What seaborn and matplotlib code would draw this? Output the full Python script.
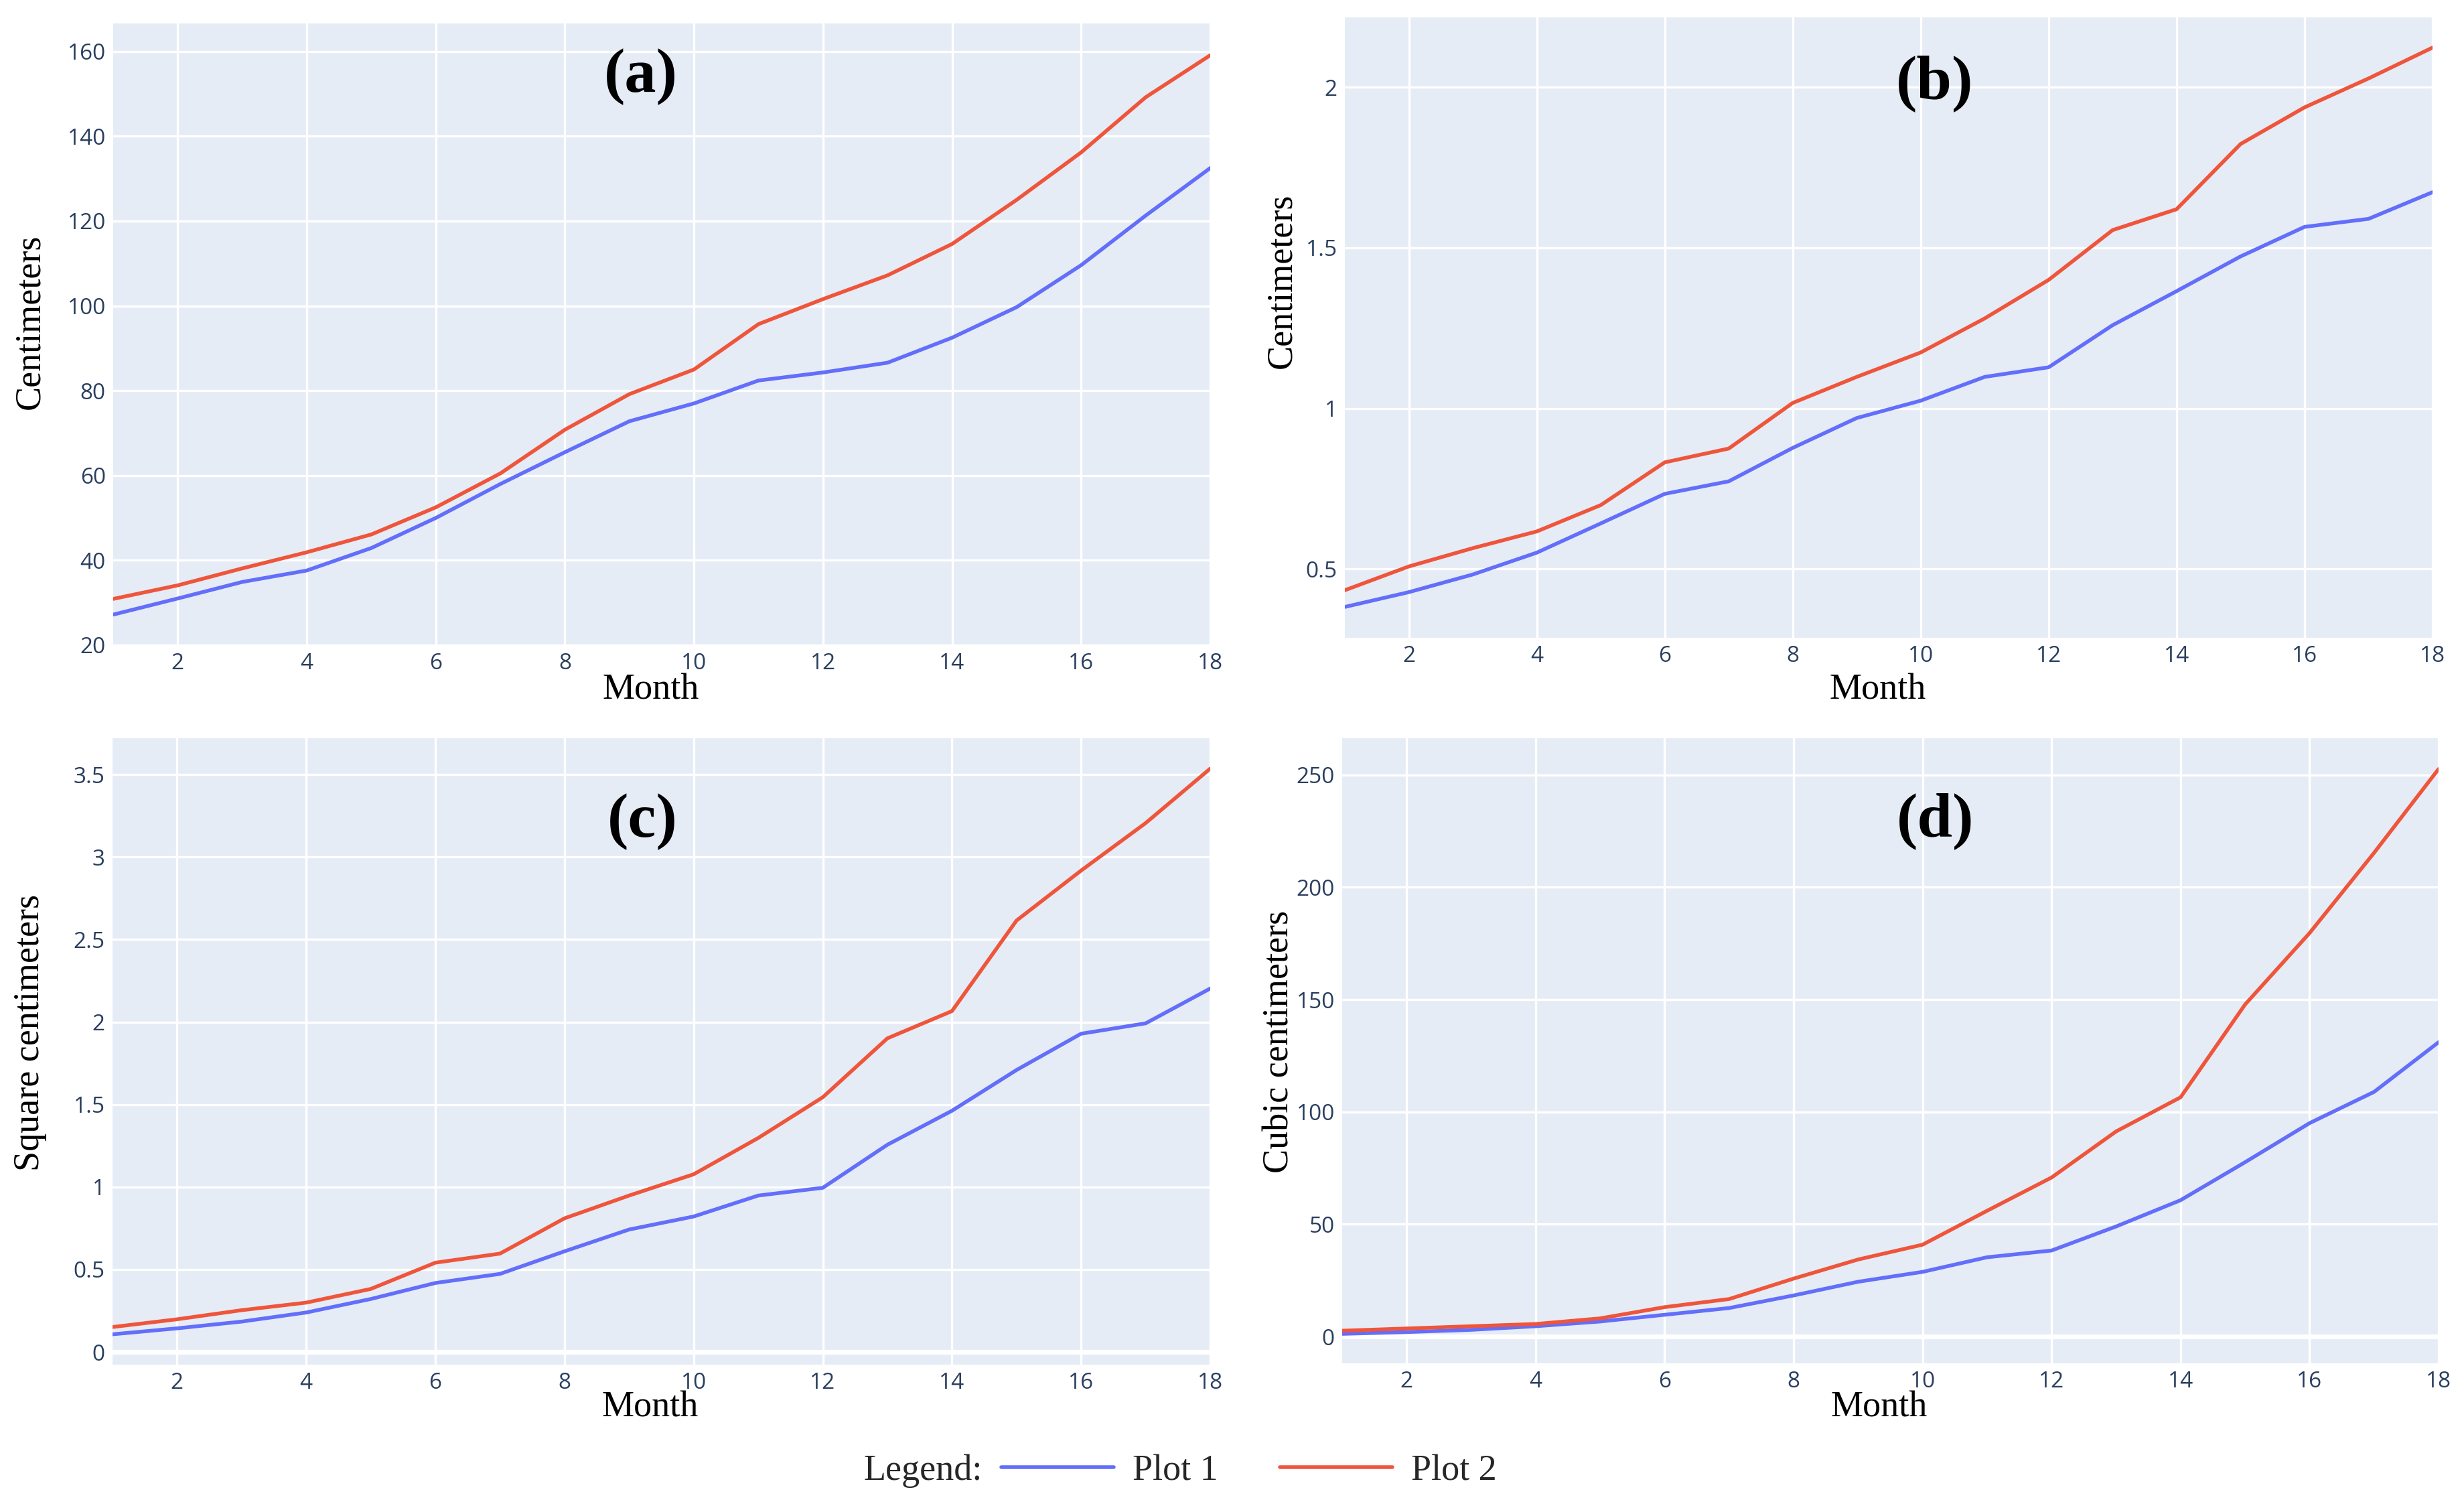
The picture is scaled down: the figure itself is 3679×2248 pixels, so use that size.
import pandas as pd
import numpy as np
import matplotlib
matplotlib.use("Agg")
import matplotlib.pyplot as plt
from matplotlib.ticker import FuncFormatter
from matplotlib.lines import Line2D
import seaborn as sns

# ------------------------------
# Data
# ------------------------------
months = list(range(1, 19))

a_plot1 = [27.2, 31.0, 34.9, 37.6, 42.9, 50.0, 58.0, 65.5, 72.8, 77.0, 82.4, 84.3, 86.6, 92.5, 99.7, 109.6, 121.3, 132.5]
a_plot2 = [30.9, 34.1, 38.1, 41.9, 46.1, 52.5, 60.5, 70.8, 79.2, 85.0, 95.7, 101.6, 107.2, 114.6, 125.0, 136.2, 149.2, 159.1]

b_plot1 = [0.382, 0.428, 0.483, 0.551, 0.642, 0.734, 0.773, 0.877, 0.970, 1.024, 1.098, 1.128, 1.259, 1.365, 1.473, 1.565, 1.590, 1.673]
b_plot2 = [0.434, 0.508, 0.565, 0.617, 0.699, 0.832, 0.875, 1.017, 1.098, 1.174, 1.280, 1.400, 1.555, 1.620, 1.823, 1.937, 2.027, 2.123]

c_plot1 = [0.107, 0.143, 0.184, 0.239, 0.321, 0.418, 0.473, 0.610, 0.742, 0.821, 0.948, 0.995, 1.256, 1.462, 1.709, 1.929, 1.992, 2.203]
c_plot2 = [0.151, 0.198, 0.253, 0.299, 0.382, 0.541, 0.596, 0.810, 0.948, 1.077, 1.297, 1.544, 1.901, 2.066, 2.615, 2.918, 3.206, 3.536]

d_plot1 = [1.2, 2.0, 3.0, 4.6, 6.7, 9.7, 12.7, 18.3, 24.4, 28.8, 35.3, 38.3, 49.0, 60.7, 77.6, 95.0, 108.9, 131.0]
d_plot2 = [2.6, 3.6, 4.6, 5.6, 8.1, 13.1, 16.7, 25.8, 34.3, 40.9, 56.0, 70.8, 91.3, 106.5, 147.8, 179.6, 215.3, 252.6]

panel_labels = ["(a)", "(b)", "(c)", "(d)"]
y_titles = ["Centimeters", "Centimeters", "Square centimeters", "Cubic centimeters"]
series_names = ["Plot 1", "Plot 2"]
x_ticks = [2, 4, 6, 8, 10, 12, 14, 16, 18]
y_ticks = [
    [20, 40, 60, 80, 100, 120, 140, 160],
    [0.5, 1, 1.5, 2],
    [0, 0.5, 1, 1.5, 2, 2.5, 3, 3.5],
    [0, 50, 100, 150, 200, 250],
]

# ------------------------------
# Style
# ------------------------------
sns.set_theme(style="darkgrid", rc={
    "axes.facecolor": "#E5ECF6",
    "grid.color": "white",
    "grid.linewidth": 1.2,
    "axes.edgecolor": "none",
})
plt.rcParams['font.family'] = ['Liberation Serif', 'DejaVu Serif']

palette = {"Plot 1": "#636EFA", "Plot 2": "#EF553B"}
tick_color = "#2a3f5f"

fig = plt.figure(figsize=(18.4, 11.24), dpi=200)

# axes rectangles in pixels (left, top, right, bottom)
W, H = 3680, 2248
boxes_px = [
    (169, 35, 1807, 963),
    (2008, 26, 3632, 952),
    (168, 1102, 1807, 2037),
    (2004, 1102, 3641, 2035),
]
ylims = [(20, 166.6), (0.286, 2.217), (-0.077, 3.72), (-11.9, 266.3)]
label_pos = [(0.481, 0.914), (0.542, 0.893), (0.483, 0.867), (0.541, 0.867)]
ylab_pos = [(-0.076, 0.52), (-0.058, 0.575), (-0.075, 0.53), (-0.057, 0.515)]
xlab_y = [-0.073, -0.085, -0.069, -0.071]

datasets = [(a_plot1, a_plot2), (b_plot1, b_plot2), (c_plot1, c_plot2), (d_plot1, d_plot2)]

for i, (p1, p2) in enumerate(datasets):
    l, t, r, b = boxes_px[i]
    ax = fig.add_axes([l / W, 1 - b / H, (r - l) / W, (b - t) / H])

    df = pd.DataFrame({
        "Month": months * 2,
        "value": p1 + p2,
        "series": [series_names[0]] * len(months) + [series_names[1]] * len(months),
    })
    sns.lineplot(data=df, x="Month", y="value", hue="series", palette=palette,
                 linewidth=2.0, legend=False, ax=ax, zorder=3)

    if ylims[i][0] < 0:
        ax.axhline(0, color="white", linewidth=2.6, zorder=2)

    ax.set_xlim(1, 18)
    ax.set_ylim(*ylims[i])
    ax.set_xticks(x_ticks)
    ax.set_yticks(y_ticks[i])
    ax.yaxis.set_major_formatter(FuncFormatter(lambda v, pos: f"{v:g}"))
    ax.tick_params(axis="both", length=0, labelsize=12, colors=tick_color, pad=4)
    for lab in ax.get_xticklabels() + ax.get_yticklabels():
        lab.set_fontfamily("Open Sans")
    for s in ax.spines.values():
        s.set_visible(False)

    ax.set_xlabel("Month", fontsize=19.5, color="black")
    ax.xaxis.label.set_va("center")
    ax.xaxis.set_label_coords(0.49, xlab_y[i])
    ax.set_ylabel(y_titles[i], fontsize=19.5, color="black")
    ax.yaxis.label.set_va("center")
    ax.yaxis.set_label_coords(*ylab_pos[i])

    ax.text(label_pos[i][0], label_pos[i][1], panel_labels[i], transform=ax.transAxes,
            ha="center", va="center", fontsize=34, fontweight="bold", color="black")

# ------------------------------
# Legend at the bottom
# ------------------------------
fig.text(1290 / W, 1 - 2196 / H, "Legend:", fontsize=19.5, ha="left", va="center")
handles = [Line2D([], [], color=palette[n], linewidth=2.0) for n in series_names]
fig.legend(handles, series_names, loc="center left", bbox_to_anchor=(1495 / W, 1 - 2196 / H),
           ncol=2, frameon=False, fontsize=19.5, handlelength=3.1, handletextpad=0.52,
           columnspacing=1.7, borderpad=0, borderaxespad=0)

fig.savefig("out.png", dpi=200)
